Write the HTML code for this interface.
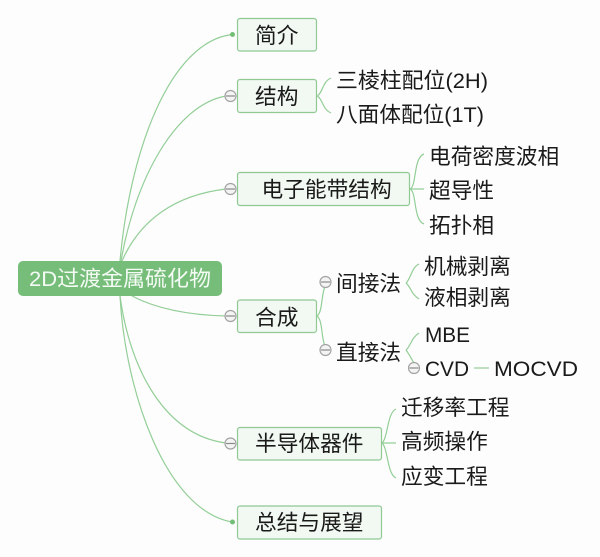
<!DOCTYPE html>
<html><head><meta charset="utf-8">
<style>
html,body{margin:0;padding:0;background:#fdfdfd;width:600px;height:557px;overflow:hidden}
svg{display:block}
text{font-family:"Liberation Sans","Noto Sans CJK SC",sans-serif;font-size:21.7px;fill:#1a1a1a}
.b{fill:#f2f8f2;stroke:#90c994;stroke-width:1.2}
.l{fill:none;stroke:#93ce97;stroke-width:1.2}
.c{fill:#f4f4f4;stroke:#a3a3a3;stroke-width:1.2}
.m{stroke:#8a8a8a;stroke-width:1.2}
.d{fill:#74bf78}
</style></head><body>
<svg width="600" height="557" viewBox="0 0 600 557" xmlns="http://www.w3.org/2000/svg">
<path class="l" d="M120 261C130 150 170 42 232 34.500"/>
<path class="l" d="M121 261C135 180 175 105 226 96"/>
<path class="l" d="M122 261C140 220 175 195 226 189"/>
<path class="l" d="M132 296C155 308 185 315 226 316"/>
<path class="l" d="M120 296C130 370 165 435 226 443"/>
<path class="l" d="M120 296C125 390 165 510 232 522"/>
<circle class="d" cx="232.500" cy="34.500" r="2.500"/>
<circle class="d" cx="232.500" cy="522" r="2.500"/>
<rect class="b" x="237.500" y="18.500" width="79" height="32.500" rx="2.500"/>
<rect class="b" x="237.500" y="79.500" width="79" height="33" rx="2.500"/>
<rect class="b" x="237.500" y="172.500" width="172" height="33" rx="2.500"/>
<rect class="b" x="237.500" y="300" width="79" height="32.500" rx="2.500"/>
<rect class="b" x="237.500" y="427.500" width="144" height="32.500" rx="2.500"/>
<rect class="b" x="237.500" y="506" width="144" height="33" rx="2.500"/>
<rect x="18" y="261" width="204" height="35" rx="5" fill="#75bd79"/>
<path class="l" d="M317 96C323 93 322 82 331 78M317 96C323 99 322 109 331 113"/>
<path class="l" d="M410 189C417 186 413 158 424 154M410 189H424M410 189C417 192 413 220 424 224"/>
<path class="l" d="M317 316C323 312 321 292 326 284M317 316C323 320 321 340 326 349"/>
<path class="l" d="M406 283C411 279 411 268 419 264M406 283C411 287 411 294 419 299"/>
<path class="l" d="M406 350C411 346 411 338 419 333M406 350C409 354 411 358 414 363"/>
<path class="l" d="M382 443C388 438 387 413 396 409M382 443H396M382 443C388 448 387 474 396 478"/>
<path class="l" d="M474 368H489"/>
<g id="minus">
<circle class="c" cx="230.500" cy="96" r="5.500"/><path class="m" d="M226 96H235"/>
<circle class="c" cx="230.500" cy="189" r="5.500"/><path class="m" d="M226 189H235"/>
<circle class="c" cx="230.500" cy="316" r="5.500"/><path class="m" d="M226 316H235"/>
<circle class="c" cx="230.500" cy="443.500" r="5.500"/><path class="m" d="M226 443.500H235"/>
<circle class="c" cx="325.500" cy="282" r="5.500"/><path class="m" d="M321 282H330"/>
<circle class="c" cx="325.500" cy="350" r="5.500"/><path class="m" d="M321 350H330"/>
<circle class="c" cx="414" cy="368" r="5.500"/><path class="m" d="M409.500 368H418.500"/>
</g>
<text x="29" y="286" textLength="182" lengthAdjust="spacingAndGlyphs" style="fill:#f4faf4">2D过渡金属硫化物</text>
<text x="255" y="43">简介</text>
<text x="255" y="104">结构</text>
<text x="261.500" y="197">电子能带结构</text>
<text x="255" y="325">合成</text>
<text x="255" y="451">半导体器件</text>
<text x="255" y="530">总结与展望</text>
<text x="336" y="88" textLength="152" lengthAdjust="spacingAndGlyphs">三棱柱配位(2H)</text>
<text x="336" y="122" textLength="148" lengthAdjust="spacingAndGlyphs">八面体配位(1T)</text>
<text x="429" y="164">电荷密度波相</text>
<text x="429" y="198">超导性</text>
<text x="429" y="233">拓扑相</text>
<text x="336" y="291">间接法</text>
<text x="336" y="360">直接法</text>
<text x="424" y="274">机械剥离</text>
<text x="424" y="305">液相剥离</text>
<text x="425" y="342" textLength="45" lengthAdjust="spacingAndGlyphs">MBE</text>
<text x="425" y="376" textLength="44" lengthAdjust="spacingAndGlyphs">CVD</text>
<text x="494" y="376" textLength="84" lengthAdjust="spacingAndGlyphs">MOCVD</text>
<text x="401" y="415">迁移率工程</text>
<text x="401" y="449">高频操作</text>
<text x="401" y="484">应变工程</text>
</svg>
</body></html>
